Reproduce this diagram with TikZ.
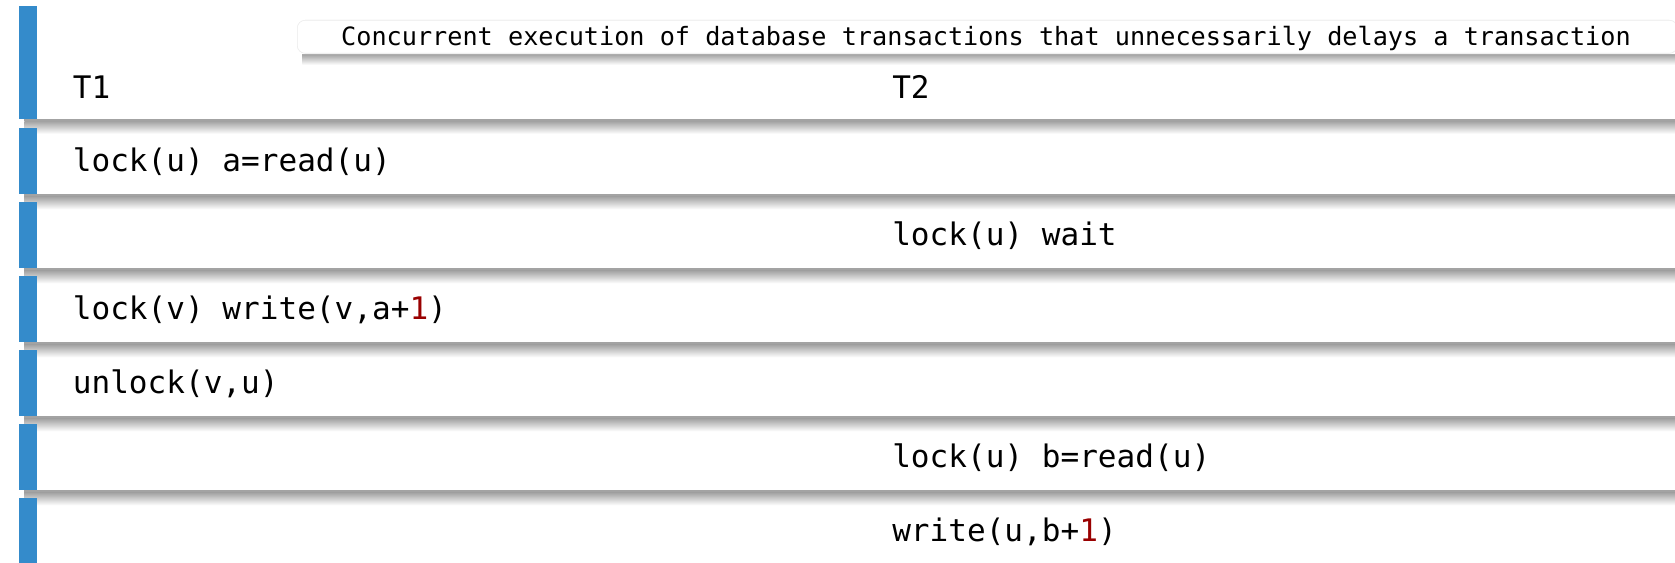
\documentclass[tikz,border=0pt]{standalone}
\usepackage{fontspec}
\setmonofont{DejaVu Sans Mono}
\definecolor{barblue}{HTML}{348BCB}
\definecolor{numred}{HTML}{990000}
\tikzset{
  rowbox/.style={anchor=north west, inner sep=0, draw=none,
    minimum width=1242pt, minimum height=49.1pt},
  headbox/.style={rowbox, minimum height=84pt},
  celltext/.style={anchor=base west, inner sep=0,
    font=\ttfamily\fontsize{23.3}{27}\selectfont},
  titlebox/.style={draw=black!7, fill=white, rounded corners=6pt, inner sep=0,
    anchor=north west, minimum width=1035pt, minimum height=24.75pt},
  titletext/.style={anchor=base, inner sep=0,
    font=\ttfamily\fontsize{18.9}{22}\selectfont},
}
% soft shadow band under a box, plus its blue marker on the left
\newcommand{\rowshadow}[1]{%
  \fill[black!36] ([xshift=4pt]#1.south west) rectangle ([yshift=-2pt]#1.south east);
  \shade[top color=black!36, bottom color=white]
    ([xshift=4pt,yshift=-2pt]#1.south west) rectangle ([yshift=-11.5pt]#1.south east);
  \fill[barblue] (#1.north west) rectangle ([xshift=13.5pt]#1.south west);
}
\begin{document}
\begin{tikzpicture}[x=0.75pt, y=-0.75pt]
\useasboundingbox[fill=white] (0,0) rectangle (1675,563);

% header row and the six step rows
\node[headbox] (row0) at (19,6) {};
\foreach \i in {1,...,6} {
  \node[rowbox] (row\i) at (19,{128+74*(\i-1)}) {};
}

% title banner with its shadow
\node[titlebox] (title) at (297,20) {};
\fill[black!32] ([xshift=4pt]title.south west) rectangle ([yshift=-1.5pt]title.south east);
\shade[top color=black!32, bottom color=white]
  ([xshift=4pt,yshift=-1.5pt]title.south west) rectangle ([yshift=-8.5pt]title.south east);
\node[titlebox] at (297,20) {};
\node[titletext] (titlelabel) at (986,46)
  {Concurrent execution of database transactions that unnecessarily delays a transaction};

% shadows and blue markers of all rows
\foreach \i in {0,...,6} { \rowshadow{row\i} }

% column headings
\node[celltext] (h1) at (72.6,98.3) {T1};
\node[celltext] (h2) at (892,98.3) {T2};

% steps of the schedule
\node[celltext] (s1) at (72.6,171.7) {lock(u) a=read(u)};
\node[celltext] (s2) at (892,245.7) {lock(u) wait};
\node[celltext] (s3) at (72.6,319.7) {lock(v) write(v,a+\textcolor{numred}{1})};
\node[celltext] (s4) at (72.6,393.7) {unlock(v,u)};
\node[celltext] (s5) at (892,467.7) {lock(u) b=read(u)};
\node[celltext] (s6) at (892,541.7) {write(u,b+\textcolor{numred}{1})};
\end{tikzpicture}
\end{document}
